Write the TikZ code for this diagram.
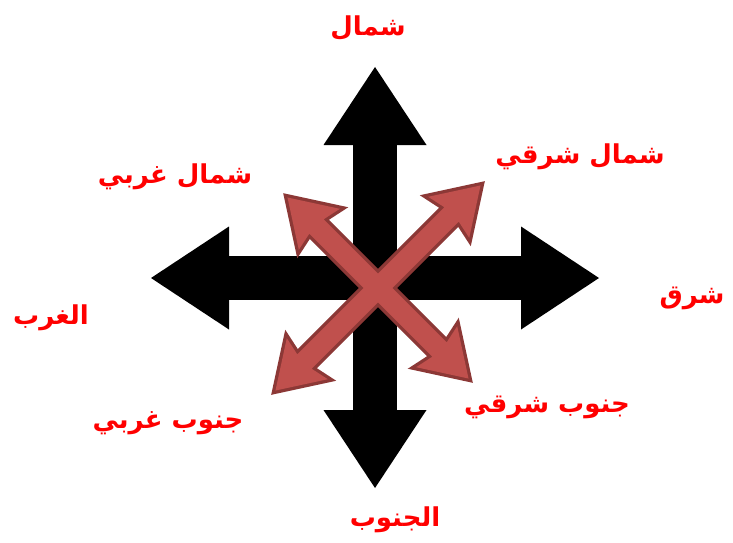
\documentclass[tikz,border=0pt]{standalone}
\usepackage{fontspec}
\newfontfamily\arabicfont[Script=Arabic]{DejaVu Sans}
\TeXXeTstate=1
\usetikzlibrary{arrows.meta}
\definecolor{dirRed}{HTML}{FF0000}
\definecolor{crossFill}{HTML}{C0504D}
\definecolor{crossEdge}{HTML}{8C3836}

\begin{document}
\begin{tikzpicture}[x=1pt, y=-1pt,
    lbl/.style={text=dirRed, font=\arabicfont\bfseries\fontsize{26}{30}\selectfont, inner sep=0pt},
    bigtip/.tip={Triangle[length=78pt, width=103pt, line width=0pt]},
    bigarr/.style={line width=44pt, black, {bigtip}-{bigtip}}]
  \useasboundingbox (0,0) rectangle (733,543);
  % black cross
  \coordinate (c) at (375,278);
  \coordinate (tN) at (375,67);
  \coordinate (tS) at (375,488);
  \coordinate (tW) at (151,278);
  \coordinate (tE) at (599,278);
  \draw[bigarr] (tS) -- (tN);
  \draw[bigarr] (tW) -- (tE);
  % red diagonal arrows, outline pass then fill pass
  \foreach \pass in {1,2} {
    \foreach \ang/\len in {45/145, 135/128} {
      \begin{scope}[shift={(378,288)}, rotate=\ang]
        \ifnum\pass=1
          \draw[crossEdge, line width=6.6pt]
        \else
          \fill[crossFill]
        \fi
          (-\len,0) -- (-\len+45,29) -- (-\len+41,10.2) -- (\len-41,10.2)
          -- (\len-45,29) -- (\len,0) -- (\len-45,-29) -- (\len-41,-10.2)
          -- (-\len+41,-10.2) -- (-\len+45,-29) -- cycle;
      \end{scope}
    }
  }
  % labels
  \node[lbl] (north) at (368,28) {\beginR شمال\endR};
  \node[lbl] (northeast) at (580,157) {\beginR شمال شرقي\endR};
  \node[lbl] (northwest) at (175,177) {\beginR شمال غربي\endR};
  \node[lbl] (west) at (51,318) {\beginR الغرب\endR};
  \node[lbl] (east) at (692,298) {\beginR شرق\endR};
  \node[lbl] (southwest) at (168,423) {\beginR جنوب غربي\endR};
  \node[lbl] (southeast) at (547,407) {\beginR جنوب شرقي\endR};
  \node[lbl] (south) at (395,520) {\beginR الجنوب\endR};
\end{tikzpicture}
\end{document}
